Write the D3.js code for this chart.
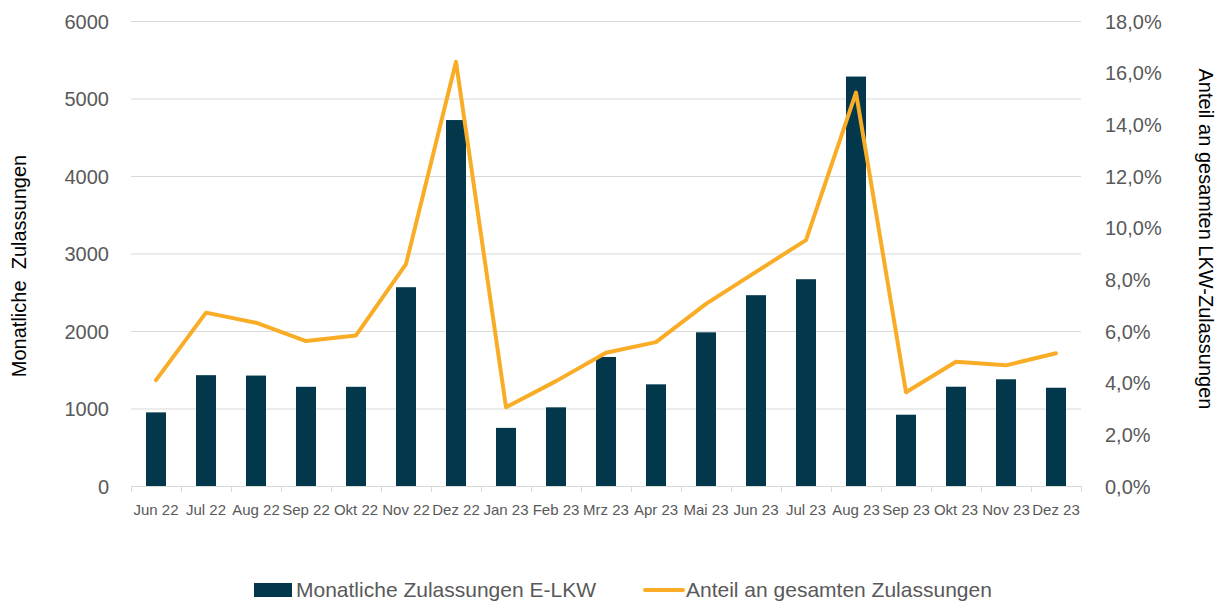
<!DOCTYPE html>
<html>
<head>
<meta charset="utf-8">
<script src="https://cdn.jsdelivr.net/npm/d3@7"></script>
<style>
  body { margin: 0; background: #fff; }
  text { font-family: "Liberation Sans", Arial, sans-serif; }
</style>
</head>
<body>
<div id="chart"></div>
<script>
var months = ["Jun 22", "Jul 22", "Aug 22", "Sep 22", "Okt 22", "Nov 22", "Dez 22",
    "Jan 23", "Feb 23", "Mrz 23", "Apr 23", "Mai 23", "Jun 23", "Jul 23", "Aug 23",
    "Sep 23", "Okt 23", "Nov 23", "Dez 23"];
var registrations = [950, 1430, 1425, 1280, 1280, 2565, 4722, 750, 1015, 1665,
    1312, 1983, 2462, 2668, 5283, 920, 1281, 1377, 1268];
var share = [0.041, 0.0671, 0.0632, 0.0561, 0.0583, 0.0859, 0.1642, 0.0305, 0.0406,
    0.0516, 0.0557, 0.0705, 0.0829, 0.0952, 0.1523, 0.0363, 0.0481, 0.0467, 0.0514];
var leftTicks = [0, 1000, 2000, 3000, 4000, 5000, 6000];
var rightTicks = [0, 0.02, 0.04, 0.06, 0.08, 0.10, 0.12, 0.14, 0.16, 0.18];
var legendLabels = ["Monatliche Zulassungen E-LKW", "Anteil an gesamten Zulassungen"];

var chart = {
    width: 1220,
    height: 603,
    left: 131,
    right: 1081,
    top: 21,
    bottom: 486,
    barColor: "#03374b",
    lineColor: "#f9ad26",
    gridColor: "#d9d9d9",
    textColor: "#595959",
    initialize: function() {
        var self = this;
        self.svg = d3.select("#chart").append("svg")
            .attr("width", self.width)
            .attr("height", self.height);
        self.x = d3.scaleBand().domain(months)
            .range([self.left, self.right])
            .paddingInner(0.6).paddingOuter(0.3);
        self.y = d3.scaleLinear().domain([0, 6000]).range([self.bottom, self.top]);
        self.y2 = d3.scaleLinear().domain([0, 0.18]).range([self.bottom, self.top]);
        self.draw();
    },

    draw: function() {
        var self = this;
        var svg = self.svg;

        // gridlines
        svg.append("g").selectAll("line")
            .data(leftTicks)
            .enter().append("line")
            .attr("x1", self.left).attr("x2", self.right)
            .attr("y1", function(d) { return self.y(d) + 0.5; })
            .attr("y2", function(d) { return self.y(d) + 0.5; })
            .attr("stroke", self.gridColor)
            .attr("stroke-width", 1);

        // left axis
        var leftAxis = svg.append("g")
            .attr("transform", "translate(" + (self.left - 22) + ",0)")
            .call(d3.axisLeft(self.y).tickValues(leftTicks).tickSize(0).tickPadding(0)
                .tickFormat(d3.format("d")));
        leftAxis.select(".domain").remove();
        leftAxis.selectAll("text")
            .attr("fill", self.textColor)
            .style("font-size", "20px")
            .attr("dy", "0.35em");

        // right axis
        var rightAxis = svg.append("g")
            .attr("transform", "translate(" + (self.right + 24) + ",0)")
            .call(d3.axisRight(self.y2).tickValues(rightTicks).tickSize(0).tickPadding(0)
                .tickFormat(function(d) { return (d * 100).toFixed(1).replace(".", ",") + "%"; }));
        rightAxis.select(".domain").remove();
        rightAxis.selectAll("text")
            .attr("fill", self.textColor)
            .style("font-size", "20px")
            .attr("dy", "0.35em");

        // bars
        svg.append("g").selectAll("rect")
            .data(registrations)
            .enter().append("rect")
            .attr("x", function(d, i) { return self.x(months[i]); })
            .attr("y", function(d) { return self.y(d); })
            .attr("width", self.x.bandwidth())
            .attr("height", function(d) { return self.bottom - self.y(d); })
            .attr("fill", self.barColor);

        // bottom axis line and ticks
        var step = self.x.step();
        svg.append("line")
            .attr("x1", self.left).attr("x2", self.right)
            .attr("y1", self.bottom + 0.5).attr("y2", self.bottom + 0.5)
            .attr("stroke", self.gridColor);
        svg.append("g").selectAll("line")
            .data(d3.range(months.length + 1))
            .enter().append("line")
            .attr("x1", function(d) { return self.left + d * step + 0.5; })
            .attr("x2", function(d) { return self.left + d * step + 0.5; })
            .attr("y1", self.bottom)
            .attr("y2", self.bottom + 6)
            .attr("stroke", self.gridColor);

        svg.append("g").selectAll("text")
            .data(months)
            .enter().append("text")
            .attr("x", function(d) { return self.x(d) + self.x.bandwidth() / 2; })
            .attr("y", 515)
            .attr("text-anchor", "middle")
            .attr("fill", self.textColor)
            .style("font-size", "15px")
            .text(function(d) { return d; });

        // line
        var line = d3.line()
            .x(function(d, i) { return self.x(months[i]) + self.x.bandwidth() / 2; })
            .y(function(d) { return self.y2(d); });
        svg.append("path")
            .datum(share)
            .attr("d", line)
            .attr("fill", "none")
            .attr("stroke", self.lineColor)
            .attr("stroke-width", 4)
            .attr("stroke-linejoin", "round")
            .attr("stroke-linecap", "round");

        // axis titles
        svg.append("text")
            .attr("transform", "translate(26,266) rotate(-90)")
            .attr("text-anchor", "middle")
            .attr("fill", "#000")
            .style("font-size", "20px")
            .style("white-space", "pre")
            .attr("xml:space", "preserve")
            .text("Monatliche  Zulassungen");

        svg.append("text")
            .attr("transform", "translate(1199,239) rotate(90)")
            .attr("text-anchor", "middle")
            .attr("fill", "#000")
            .style("font-size", "20px")
            .text("Anteil an gesamten LKW-Zulassungen");

        // legend
        var legend = svg.append("g");
        legend.append("rect")
            .attr("x", 254).attr("y", 583)
            .attr("width", 38).attr("height", 14)
            .attr("fill", self.barColor);
        legend.append("text")
            .attr("x", 296).attr("y", 597)
            .attr("fill", self.textColor)
            .style("font-size", "21px")
            .text(legendLabels[0]);
        legend.append("line")
            .attr("x1", 645).attr("x2", 683)
            .attr("y1", 590).attr("y2", 590)
            .attr("stroke", self.lineColor)
            .attr("stroke-width", 4)
            .attr("stroke-linecap", "round");
        legend.append("text")
            .attr("x", 686).attr("y", 597)
            .attr("fill", self.textColor)
            .style("font-size", "21px")
            .text(legendLabels[1]);
    }
};

chart.initialize();
</script>
</body>
</html>
